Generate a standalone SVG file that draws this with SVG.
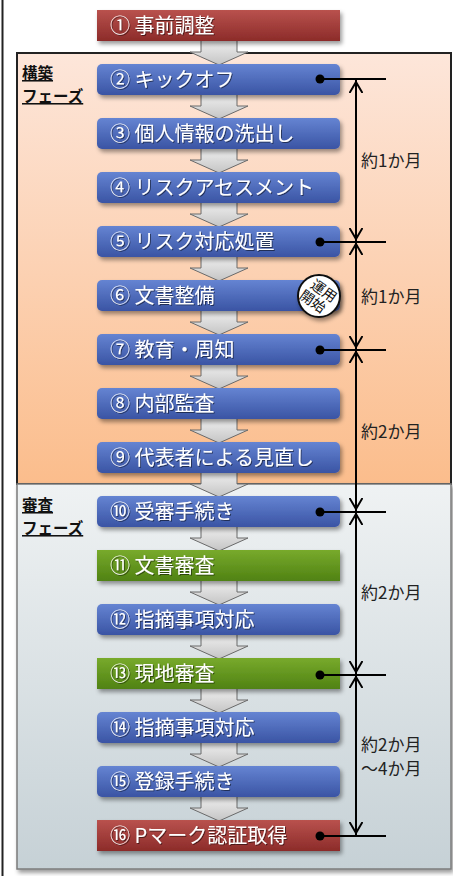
<svg xmlns="http://www.w3.org/2000/svg" width="453" height="876" viewBox="0 0 453 876">
<defs>
<linearGradient id="gBuild" x1="0" y1="0" x2="0" y2="1"><stop offset="0" stop-color="#fde6da"/><stop offset="1" stop-color="#fbbd8c"/></linearGradient>
<linearGradient id="gReview" x1="0" y1="0" x2="0" y2="1"><stop offset="0" stop-color="#eff2f3"/><stop offset="1" stop-color="#c6d1d6"/></linearGradient>
<linearGradient id="gBlue" x1="0" y1="0" x2="0" y2="1"><stop offset="0" stop-color="#6584d2"/><stop offset="1" stop-color="#3a54a4"/></linearGradient>
<linearGradient id="gRed" x1="0" y1="0" x2="0" y2="1"><stop offset="0" stop-color="#b9524e"/><stop offset="1" stop-color="#8c2b29"/></linearGradient>
<linearGradient id="gGreen" x1="0" y1="0" x2="0" y2="1"><stop offset="0" stop-color="#78aa2c"/><stop offset="1" stop-color="#508213"/></linearGradient>
<linearGradient id="gArrow" x1="0" y1="0" x2="0" y2="1"><stop offset="0" stop-color="#f4f4f4"/><stop offset="1" stop-color="#c4c4c4"/></linearGradient>
<filter id="sh" x="-10%" y="-30%" width="125%" height="180%"><feDropShadow dx="2" dy="3" stdDeviation="2" flood-color="#000" flood-opacity="0.4"/></filter>
<filter id="tsh" x="-10%" y="-30%" width="120%" height="160%"><feDropShadow dx="1" dy="1" stdDeviation="0.6" flood-color="#000" flood-opacity="0.5"/></filter>
<marker id="v" viewBox="0 0 12 14" refX="11" refY="7" markerWidth="12" markerHeight="14" markerUnits="userSpaceOnUse" orient="auto-start-reverse"><path d="M0,0.5 L11,7 L0,13.5" fill="none" stroke="#000" stroke-width="2"/></marker>
<path id="arr" d="M201,-3 H237 V11 H248 L219,24 L190,11 H201 Z"/>
</defs>
<style>
.bx{filter:url(#sh);}
.blue{fill:url(#gBlue);}
.red{fill:url(#gRed);}
.green{fill:url(#gGreen);}
.lbl{font-family:"Noto Sans CJK JP","Noto Sans",sans-serif;font-size:20px;fill:#fff;filter:url(#tsh);}
.ph{font-family:"Noto Sans CJK JP",sans-serif;font-size:15.5px;font-weight:bold;fill:#111;text-decoration:underline;}
.dur{font-family:"Noto Sans CJK JP","Noto Sans",sans-serif;font-size:17px;fill:#222;}
.arrow{fill:url(#gArrow);stroke:#6a6a6a;stroke-width:1;}
.tl{stroke:#000;stroke-width:2;fill:none;}
.dot{fill:#000;}
</style>
<rect x="0" y="0" width="453" height="876" fill="#fff"/>
<line x1="2.5" y1="0" x2="2.5" y2="876" stroke="#222" stroke-width="2"/>
<g id="phase-build">
<rect x="17" y="53" width="434" height="431" fill="url(#gBuild)" stroke="#222" stroke-width="2"/>
<text class="ph" x="22" y="79">構築</text>
<text class="ph" x="22" y="102">フェーズ</text>
</g>
<g id="phase-review">
<rect x="17" y="484" width="434" height="385" fill="url(#gReview)" stroke="#7b7b7b" stroke-width="1.5" filter="url(#sh)"/>
<text class="ph" x="22" y="511">審査</text>
<text class="ph" x="22" y="534">フェーズ</text>
</g>
<g id="connectors">
<use href="#arr" class="arrow" y="41"/>
<use href="#arr" class="arrow" y="95"/>
<use href="#arr" class="arrow" y="149"/>
<use href="#arr" class="arrow" y="203"/>
<use href="#arr" class="arrow" y="257"/>
<use href="#arr" class="arrow" y="311"/>
<use href="#arr" class="arrow" y="365"/>
<use href="#arr" class="arrow" y="419"/>
<use href="#arr" class="arrow" y="473"/>
<use href="#arr" class="arrow" y="527"/>
<use href="#arr" class="arrow" y="581"/>
<use href="#arr" class="arrow" y="635"/>
<use href="#arr" class="arrow" y="689"/>
<use href="#arr" class="arrow" y="743"/>
<use href="#arr" class="arrow" y="797"/>
</g>
<g id="n1"><rect class="bx red" x="97" y="10" width="243" height="31"/><text class="lbl" x="110" y="33">① 事前調整</text></g>
<g id="n2"><rect class="bx blue" x="97" y="64" width="243" height="31" rx="5"/><text class="lbl" x="110" y="87">② キックオフ</text></g>
<g id="n3"><rect class="bx blue" x="97" y="118" width="243" height="31" rx="5"/><text class="lbl" x="110" y="141">③ 個人情報の洗出し</text></g>
<g id="n4"><rect class="bx blue" x="97" y="172" width="243" height="31" rx="5"/><text class="lbl" x="110" y="195">④ リスクアセスメント</text></g>
<g id="n5"><rect class="bx blue" x="97" y="226" width="243" height="31" rx="5"/><text class="lbl" x="110" y="249">⑤ リスク対応処置</text></g>
<g id="n6"><rect class="bx blue" x="97" y="280" width="243" height="31" rx="5"/><text class="lbl" x="110" y="303">⑥ 文書整備</text></g>
<g id="n7"><rect class="bx blue" x="97" y="334" width="243" height="31" rx="5"/><text class="lbl" x="110" y="357">⑦ 教育・周知</text></g>
<g id="n8"><rect class="bx blue" x="97" y="388" width="243" height="31" rx="5"/><text class="lbl" x="110" y="411">⑧ 内部監査</text></g>
<g id="n9"><rect class="bx blue" x="97" y="442" width="243" height="31" rx="5"/><text class="lbl" x="110" y="465">⑨ 代表者による見直し</text></g>
<g id="n10"><rect class="bx blue" x="97" y="496" width="243" height="31" rx="5"/><text class="lbl" x="110" y="519">⑩ 受審手続き</text></g>
<g id="n11"><rect class="bx green" x="97" y="550" width="243" height="31"/><text class="lbl" x="110" y="573">⑪ 文書審査</text></g>
<g id="n12"><rect class="bx blue" x="97" y="604" width="243" height="31" rx="5"/><text class="lbl" x="110" y="627">⑫ 指摘事項対応</text></g>
<g id="n13"><rect class="bx green" x="97" y="658" width="243" height="31"/><text class="lbl" x="110" y="681">⑬ 現地審査</text></g>
<g id="n14"><rect class="bx blue" x="97" y="712" width="243" height="31" rx="5"/><text class="lbl" x="110" y="735">⑭ 指摘事項対応</text></g>
<g id="n15"><rect class="bx blue" x="97" y="766" width="243" height="31" rx="5"/><text class="lbl" x="110" y="789">⑮ 登録手続き</text></g>
<g id="n16"><rect class="bx red" x="97" y="820" width="243" height="31"/><text class="lbl" x="110" y="843">⑯ Pマーク認証取得</text></g>
<g id="badge">
<circle cx="319" cy="296" r="21" fill="#fff" stroke="#111" stroke-width="2" filter="url(#sh)"/>
<g transform="translate(319,296) rotate(35)" font-family="Noto Sans CJK JP, sans-serif" font-size="14" fill="#111" text-anchor="middle">
<text x="1" y="-2">運用</text>
<text x="-2" y="13">開始</text>
</g>
</g>
<g id="timeline">
<line class="tl" x1="356" y1="79" x2="356" y2="835"/>
<line class="tl" x1="356" y1="82" x2="356" y2="239" marker-start="url(#v)" marker-end="url(#v)"/>
<line class="tl" x1="356" y1="244" x2="356" y2="347" marker-start="url(#v)" marker-end="url(#v)"/>
<line class="tl" x1="356" y1="352" x2="356" y2="509" marker-start="url(#v)" marker-end="url(#v)"/>
<line class="tl" x1="356" y1="514" x2="356" y2="672" marker-start="url(#v)" marker-end="url(#v)"/>
<line class="tl" x1="356" y1="677" x2="356" y2="833" marker-start="url(#v)" marker-end="url(#v)"/>
<line class="tl" x1="320" y1="79" x2="386" y2="79"/><circle class="dot" cx="320" cy="79" r="4.5"/>
<line class="tl" x1="320" y1="242" x2="386" y2="242"/><circle class="dot" cx="320" cy="242" r="4.5"/>
<line class="tl" x1="320" y1="350" x2="386" y2="350"/><circle class="dot" cx="320" cy="350" r="4.5"/>
<line class="tl" x1="320" y1="512" x2="386" y2="512"/><circle class="dot" cx="320" cy="512" r="4.5"/>
<line class="tl" x1="320" y1="675" x2="386" y2="675"/><circle class="dot" cx="320" cy="675" r="4.5"/>
<line class="tl" x1="320" y1="836" x2="386" y2="836"/><circle class="dot" cx="320" cy="836" r="4.5"/>
<text class="dur" x="361" y="167">約1か月</text>
<text class="dur" x="361" y="303">約1か月</text>
<text class="dur" x="361" y="438">約2か月</text>
<text class="dur" x="361" y="599">約2か月</text>
<text class="dur" x="361" y="751">約2か月</text>
<text class="dur" x="361" y="775">～4か月</text>
</g>
</svg>
